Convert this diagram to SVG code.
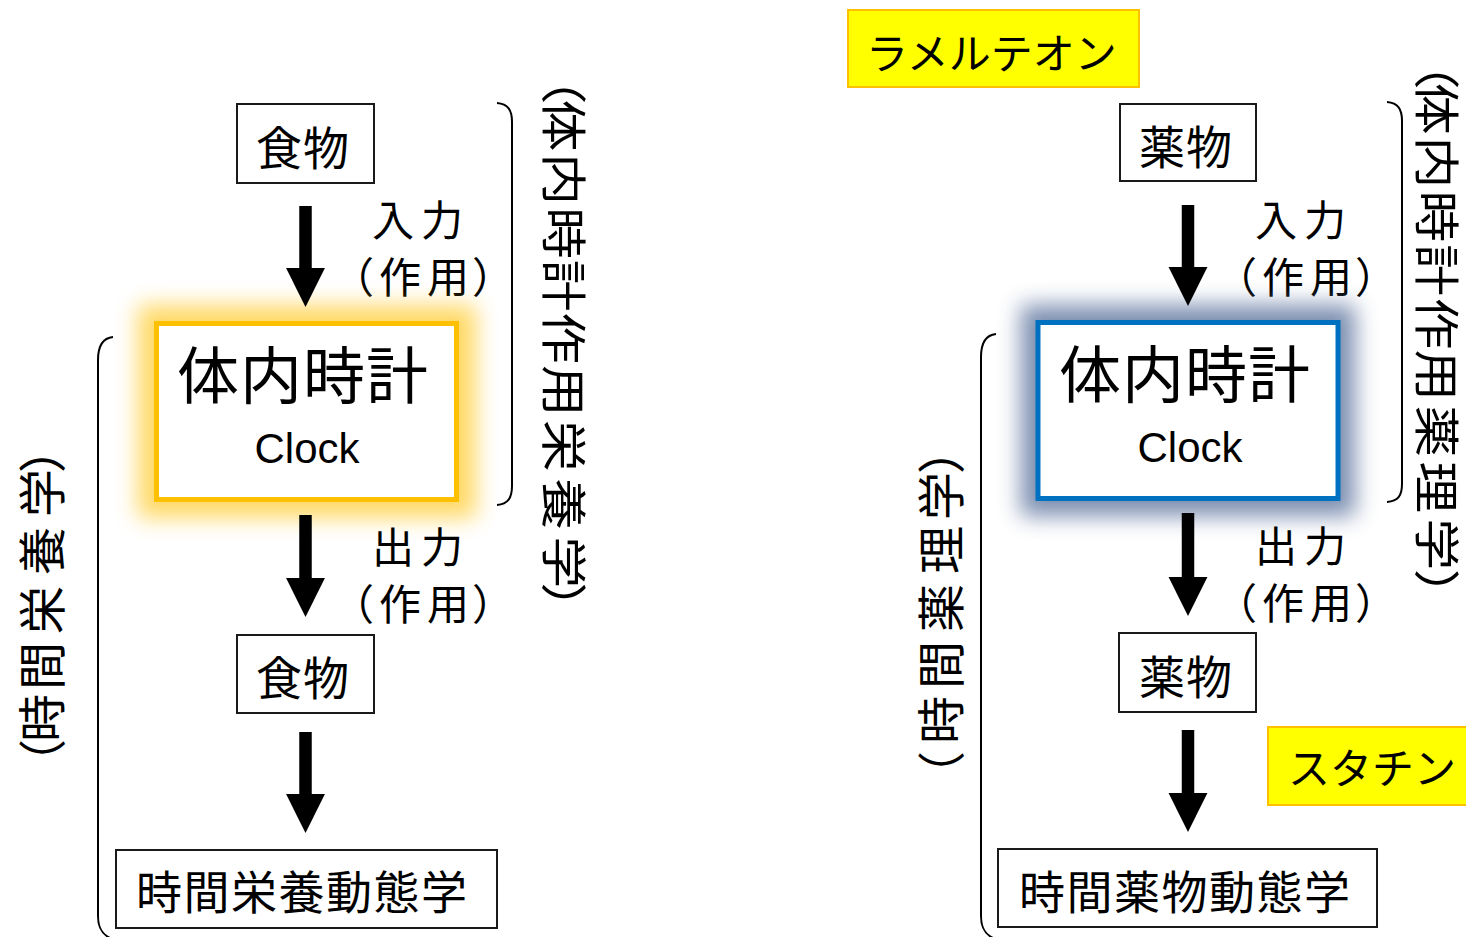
<svg xmlns="http://www.w3.org/2000/svg" width="1466" height="937" viewBox="0 0 1466 937">
<defs>
<style>
.jp{font-family:"Noto Sans CJK JP","Noto Sans CJK SC",sans-serif;fill:#000}
.en{font-family:"Liberation Sans",Arial,sans-serif;fill:#000}
.box{fill:#fff;stroke:#1a1a1a;stroke-width:2}
.hl{fill:#FFFF00;stroke:#FFC000;stroke-width:2}
.brk{fill:none;stroke:#000;stroke-width:2}
.arr{stroke:#000;stroke-width:12.5;fill:none;marker-end:url(#head)}
</style>
<marker id="head" markerUnits="userSpaceOnUse" markerWidth="40" markerHeight="40" refX="0" refY="0" viewBox="0 -18 36 36" orient="auto" overflow="visible">
<path d="M0,-17.5 L35,0 L0,17.5 Z" fill="#000"/>
</marker>
<filter id="blur" x="-40%" y="-60%" width="180%" height="220%">
<feGaussianBlur stdDeviation="11"/>
</filter>
</defs>
<rect width="1466" height="937" fill="#fff"/>

<g id="brackets">
<path class="brk" d="M497,103 C508,104 512,110 512,122 L512,486 C512,498 508,504 497,505"/>
<path class="brk" d="M113,337 C103,338 98,346 98,360 L98,916 C98,928 102,934 110,938"/>
<path class="brk" d="M1387,102 C1398,103 1402,109 1402,121 L1402,484 C1402,496 1398,501 1387,502"/>
<path class="brk" d="M996,334 C986,335 981,343 981,357 L981,916 C981,928 985,934 993,938"/>
</g>

<g id="left-food-top">
<rect class="box" x="237" y="104" width="137" height="79"/>
<text class="jp" x="256" y="165" font-size="46" letter-spacing="1">食物</text>
</g>
<g id="left-input-label">
<text class="jp" x="372" y="236" font-size="42" letter-spacing="7">入力</text>
<text class="jp" x="332 379 427 472" y="293" font-size="42">（作用）</text>
</g>
<g id="left-clock">
<rect x="138" y="305" width="338" height="213" fill="#FFC000" opacity="0.6" filter="url(#blur)"/>
<rect x="156.5" y="323.5" width="300" height="176" fill="#fff" stroke="#FFC000" stroke-width="5"/>
<text class="jp" x="177" y="399" font-size="62" letter-spacing="1">体内時計</text>
<text class="en" x="307" y="463" font-size="42" text-anchor="middle">Clock</text>
</g>
<g id="left-output-label">
<text class="jp" x="372" y="563" font-size="42" letter-spacing="7">出力</text>
<text class="jp" x="332 379 427 472" y="620" font-size="42">（作用）</text>
</g>
<g id="left-food-bottom">
<rect class="box" x="237" y="635" width="137" height="78"/>
<text class="jp" x="256" y="695" font-size="46" letter-spacing="1">食物</text>
</g>
<g id="left-dynamics">
<rect class="box" x="116" y="850" width="381" height="78"/>
<text class="jp" x="136" y="909" font-size="46" letter-spacing="1.5">時間栄養動態学</text>
</g>
<g id="left-vertical-right">
<text class="jp" transform="translate(564,0) rotate(90) scale(1.12,1)" x="47 89 137 185 232 279 326 375 427 479 520" y="17" font-size="46">（体内時計作用栄養学）</text>
</g>
<g id="left-vertical-left">
<text class="jp" transform="translate(40,604) rotate(-90)" x="-183 -138 -86 -30 29 87 131" y="20" font-size="48">（時間栄養学）</text>
</g>

<g id="ramelteon">
<rect class="hl" x="848" y="10" width="291" height="77"/>
<text class="jp" x="866" y="69" font-size="42">ラメルテオン</text>
</g>
<g id="right-drug-top">
<rect class="box" x="1120" y="104" width="136" height="77"/>
<text class="jp" x="1139" y="164" font-size="46" letter-spacing="1">薬物</text>
</g>
<g id="right-input-label">
<text class="jp" x="1255" y="236" font-size="42" letter-spacing="7">入力</text>
<text class="jp" x="1215 1262 1310 1355" y="293" font-size="42">（作用）</text>
</g>
<g id="right-clock">
<rect x="1021" y="305" width="334" height="211" fill="#7588AC" opacity="0.95" filter="url(#blur)"/>
<rect x="1038" y="322.5" width="300" height="176" fill="#fff" stroke="#0070C0" stroke-width="5"/>
<text class="jp" x="1059" y="398" font-size="62" letter-spacing="1">体内時計</text>
<text class="en" x="1190" y="462" font-size="42" text-anchor="middle">Clock</text>
</g>
<g id="right-output-label">
<text class="jp" x="1255" y="562" font-size="42" letter-spacing="7">出力</text>
<text class="jp" x="1215 1262 1310 1355" y="619" font-size="42">（作用）</text>
</g>
<g id="right-drug-bottom">
<rect class="box" x="1119" y="633" width="137" height="79"/>
<text class="jp" x="1139" y="694" font-size="46" letter-spacing="1">薬物</text>
</g>
<g id="statin">
<rect class="hl" x="1268" y="727" width="210" height="78"/>
<text class="jp" x="1288" y="784" font-size="42">スタチン</text>
</g>
<g id="right-dynamics">
<rect class="box" x="998" y="849" width="379" height="78"/>
<text class="jp" x="1019" y="909" font-size="46" letter-spacing="1.5">時間薬物動態学</text>
</g>
<g id="right-vertical-right">
<text class="jp" transform="translate(1437,0) rotate(90) scale(1.12,1)" x="34 74 122 170 218 266 312 362 412 463 508" y="17" font-size="46">（体内時計作用薬理学）</text>
</g>
<g id="right-vertical-left">
<text class="jp" transform="translate(937,610) rotate(-90)" x="-189 -134 -79 -22 36 90 136" y="22" font-size="48">（時間薬理学）</text>
</g>

<g id="connectors">
<line class="arr" x1="305.5" y1="206" x2="305.5" y2="268"/>
<line class="arr" x1="305.5" y1="515" x2="305.5" y2="578"/>
<line class="arr" x1="305.5" y1="732" x2="305.5" y2="794"/>
<line class="arr" x1="1188" y1="205" x2="1188" y2="267"/>
<line class="arr" x1="1188" y1="513" x2="1188" y2="577"/>
<line class="arr" x1="1188" y1="730" x2="1188" y2="793"/>
</g>
</svg>
